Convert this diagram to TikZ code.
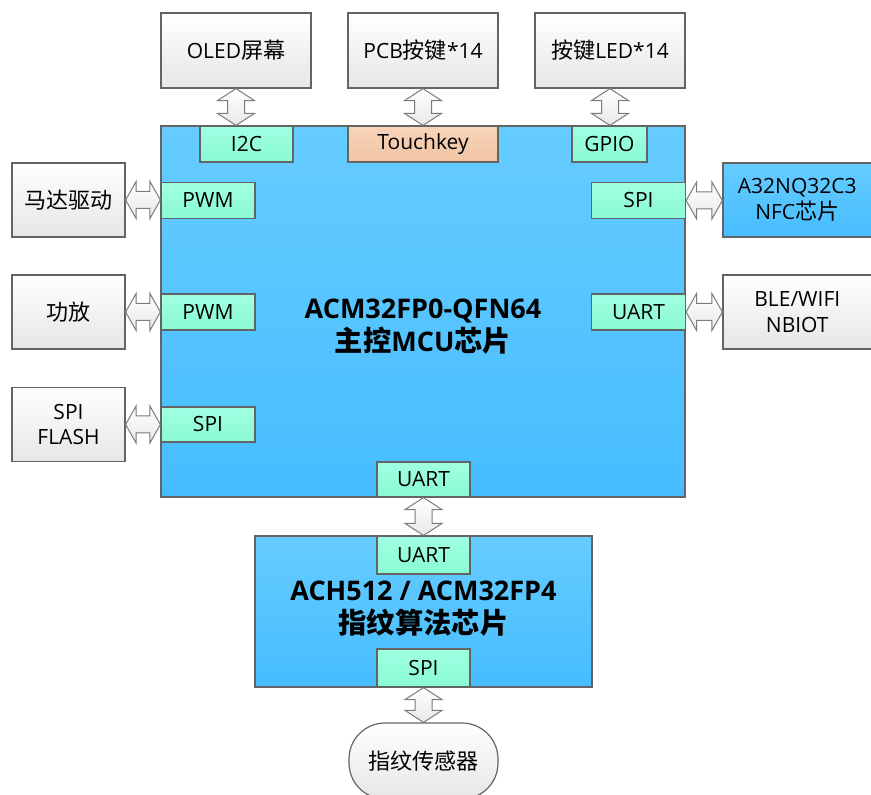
\documentclass[tikz,border=0pt]{standalone}
\usepackage{fontspec}
\setmainfont{Open Sans}
\newfontfamily\cjk[Scale=1.05]{Noto Sans CJK SC}
\usetikzlibrary{calc}

\definecolor{chipTop}{RGB}{102,204,255}
\definecolor{chipBot}{RGB}{70,189,255}
\definecolor{portTop}{RGB}{160,255,226}
\definecolor{portBot}{RGB}{138,250,213}
\definecolor{keyTop}{RGB}{248,212,185}
\definecolor{keyBot}{RGB}{240,196,164}
\definecolor{edge}{RGB}{100,100,100}
\definecolor{greyBot}{RGB}{230,230,230}

\tikzset{
  base/.style={draw=edge, line width=0.6pt, inner sep=0pt, align=center, font=\fontsize{10.5}{13}\selectfont},
  extbox/.style={base, top color=white, bottom color=greyBot, minimum width=75pt, minimum height=37.5pt},
  chipbox/.style={base, top color=chipTop, bottom color=chipBot},
  portbox/.style={base, top color=portTop, bottom color=portBot, minimum width=47pt, minimum height=18pt},
  dblarrow/.style={draw=edge!85, line width=0.5pt, top color=white, bottom color=gray!18, line join=miter},
  title/.style={align=center, font=\fontsize{13.5}{16.5}\selectfont\bfseries},
}

% fat two-headed arrows
\newcommand{\vlink}[2]{% #1 upper tip, #2 lower tip
  \path[dblarrow] (#1) -- ++(-18.5,12) -- ++(10,0) -- ($(#2)+(-8.5,-12)$) -- ++(-10,0) -- (#2)
    -- ++(18.5,-12) -- ++(-10,0) -- ($(#1)+(8.5,12)$) -- ++(10,0) -- cycle;}
\newcommand{\hlink}[2]{% #1 left tip, #2 right tip
  \path[dblarrow] (#1) -- ++(10.5,-18.5) -- ++(0,10) -- ($(#2)+(-10.5,-8.5)$) -- ++(0,-10) -- (#2)
    -- ++(-10.5,18.5) -- ++(0,-10) -- ($(#1)+(10.5,8.5)$) -- ++(0,10) -- cycle;}

\begin{document}
\begin{tikzpicture}[x=0.5pt,y=-0.5pt]
  \path[use as bounding box, clip] (0,0) rectangle (871,795);

  % main controller
  \node[chipbox, minimum width=262pt, minimum height=185.5pt] (mcu) at (423,311.5) {};
  \node[title] (mcutext) at (423,327) {ACM32FP0-QFN64\\{\cjk 主控}MCU{\cjk 芯片}};

  % ports on the main controller
  \node[portbox, minimum width=46.5pt] (i2c) at (246.5,144) {I2C};
  \node[base, top color=keyTop, bottom color=keyBot, minimum width=75pt, minimum height=18pt] (touch) at (423,144) {Touchkey};
  \node[portbox, minimum width=37.5pt] (gpio) at (609.5,144) {GPIO};
  \node[portbox] (pwm1) at (208,200.5) {PWM};
  \node[portbox] (pwm2) at (208,312) {PWM};
  \node[portbox, minimum height=17.5pt] (spil) at (208,424.5) {SPI};
  \node[portbox] (spir) at (638.5,200.5) {SPI};
  \node[portbox] (uartr) at (638.5,312) {UART};
  \node[portbox, minimum width=46.5pt, minimum height=17.5pt] (uartm) at (423.5,479.5) {UART};

  % peripherals
  \node[extbox] (oled) at (236,50.5) {OLED{\cjk 屏幕}};
  \node[extbox] (pcb) at (423,50.5) {PCB{\cjk 按键}*14};
  \node[extbox] (led) at (610,50.5) {{\cjk 按键}LED*14};
  \node[extbox, minimum width=56.5pt, minimum height=37pt] (motor) at (68.5,200) {\cjk 马达驱动};
  \node[extbox, minimum width=56.5pt, minimum height=37pt] (amp) at (68.5,312) {\cjk 功放};
  \node[extbox, minimum width=56.5pt, minimum height=37pt] (flash) at (68.5,424.5) {SPI\\FLASH};
  \node[chipbox, minimum width=74.25pt, minimum height=37pt] (nfc) at (797.25,200) {A32NQ32C3\\NFC{\cjk 芯片}};
  \node[extbox, minimum width=74.25pt, minimum height=37pt] (ble) at (797.25,312) {BLE/WIFI\\NBIOT};

  % fingerprint chip
  \node[chipbox, minimum width=168.5pt, minimum height=75.5pt] (fp) at (423.5,611.5) {};
  \node[title] (fptext) at (423.5,609) {ACH512 / ACM32FP4\\{\cjk 指纹算法芯片}};
  \node[portbox, minimum width=46.5pt, minimum height=19pt] (uartf) at (423.5,555) {UART};
  \node[portbox, minimum width=46.5pt, minimum height=19pt] (spif) at (423.5,668) {SPI};
  \node[extbox, minimum width=74.5pt, minimum height=38pt, rounded corners=18pt] (sensor) at (423.5,761) {\cjk 指纹传感器};

  % links
  \coordinate (oledin) at (oled.south |- mcu.north);
  \coordinate (ledin) at (led.south |- mcu.north);
  \vlink{oled.south}{oledin}
  \vlink{pcb.south}{touch.north}
  \vlink{led.south}{ledin}
  \hlink{motor.east}{motor.east -| pwm1.west}
  \hlink{amp.east}{amp.east -| pwm2.west}
  \hlink{flash.east}{flash.east -| spil.west}
  \hlink{spir.east}{spir.east -| nfc.west}
  \hlink{uartr.east}{uartr.east -| ble.west}
  \vlink{uartm.south}{uartf.north}
  \vlink{spif.south}{sensor.north}
\end{tikzpicture}
\end{document}
